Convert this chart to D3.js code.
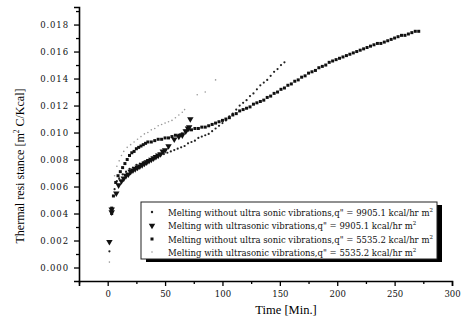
<!DOCTYPE html>
<html>
<head>
<meta charset="utf-8">
<script src="https://cdn.jsdelivr.net/npm/d3@7"></script>
<style>
  body { margin: 0; background: #fff; }
  svg { font-family: "Liberation Serif", "DejaVu Serif", serif; }
</style>
</head>
<body>
<div id="viz"></div>
<script>
const width = 462;
const height = 330;

// x ticks (Time, min) and y ticks (thermal resistance)
const xTicks = [0, 50, 100, 150, 200, 250, 300];
const xMinor = [-25, 25, 75, 125, 175, 225, 275];
const yTicks = [0, 0.002, 0.004, 0.006, 0.008, 0.010, 0.012, 0.014, 0.016, 0.018];
const yMinor = [0.001, 0.003, 0.005, 0.007, 0.009, 0.011, 0.013, 0.015, 0.017, 0.019];

const legendLabels = [
  'Melting without ultra sonic vibrations,q" = 9905.1 kcal/hr m',
  'Melting with ultrasonic vibrations,q" = 9905.1 kcal/hr m',
  'Melting without ultra sonic vibrations,q" = 5535.2 kcal/hr m',
  'Melting with ultrasonic vibrations,q" = 5535.2 kcal/hr m'
];

// [time, resistance]
const noUltra9905 = [
  [1.5, 0.0012], [4, 0.0044], [6, 0.0058], [8, 0.0064], [10, 0.0066], [13, 0.0069],
  [16, 0.0071], [19, 0.0073], [22, 0.0074], [25, 0.0076], [28, 0.0077], [31, 0.0078],
  [34, 0.0079], [37, 0.0080], [40, 0.0081], [43, 0.0082], [46, 0.0083], [49, 0.0084],
  [52, 0.0085], [55, 0.0086], [58, 0.0087], [61, 0.0088], [64, 0.0089], [67, 0.0090],
  [70, 0.0092], [73, 0.0093], [76, 0.0094], [79, 0.0096], [82, 0.0097], [85, 0.0098],
  [88, 0.0099], [91, 0.0101], [94, 0.0103], [97, 0.0105], [100, 0.0107], [103, 0.0109],
  [106, 0.0112], [109, 0.0114], [112, 0.0117], [115, 0.0120], [118, 0.0122], [121, 0.0124],
  [124, 0.0127], [127, 0.0129], [130, 0.0132], [133, 0.0135], [136, 0.0137], [139, 0.0139],
  [142, 0.0142], [145, 0.0145], [148, 0.0147], [151, 0.0150], [154, 0.0152]
];

const ultra9905 = [
  [1.5, 0.0019], [3.5, 0.0043], [3.5, 0.0041], [7.5, 0.0055], [9.5, 0.0061], [12, 0.0064],
  [14, 0.0066], [16, 0.0068], [18, 0.0069], [20, 0.0071], [22, 0.0072], [24, 0.0073],
  [26, 0.0074], [28, 0.0075], [30, 0.0076], [32, 0.0077], [34, 0.0078], [36, 0.0079],
  [38, 0.0080], [40, 0.0081], [42, 0.0082], [44, 0.0083], [46, 0.0084], [48, 0.0086],
  [50, 0.0087], [53, 0.0090], [58, 0.0095], [62, 0.0097], [65, 0.0098], [68, 0.0101],
  [70, 0.0103], [71, 0.0104], [72, 0.0110]
];

const noUltra5535 = [
  [3.5, 0.0040], [3.5, 0.0044], [5, 0.0053], [7, 0.0063], [9, 0.0068], [11, 0.0071],
  [13, 0.0074], [15, 0.0077], [17, 0.0080], [19, 0.0083], [21, 0.0085], [23, 0.0086],
  [25, 0.0088], [27, 0.0089], [29, 0.0090], [31, 0.0091], [33, 0.0092], [35, 0.0093],
  [38, 0.0093], [41, 0.0094], [44, 0.0095], [47, 0.0095], [50, 0.0096], [53, 0.0096],
  [56, 0.0097], [59, 0.0098], [62, 0.0098], [65, 0.0099], [68, 0.0101], [70, 0.0102],
  [73, 0.0102], [76, 0.0103], [79, 0.0103], [82, 0.0104], [85, 0.0104], [88, 0.0105],
  [91, 0.0106], [94, 0.0107], [97, 0.0108], [100, 0.0109], [103, 0.0110], [106, 0.0111],
  [109, 0.0113], [112, 0.0114], [115, 0.0116], [118, 0.0117], [121, 0.0118], [124, 0.0119],
  [127, 0.0121], [130, 0.0122], [133, 0.0123], [136, 0.0124], [139, 0.0126], [142, 0.0127],
  [145, 0.0129], [148, 0.0130], [151, 0.0132], [154, 0.0133], [157, 0.0135], [160, 0.0136],
  [163, 0.0138], [166, 0.0139], [169, 0.0141], [172, 0.0142], [175, 0.0144], [178, 0.0145],
  [181, 0.0146], [184, 0.0148], [187, 0.0149], [190, 0.0150], [193, 0.0152], [196, 0.0153],
  [199, 0.0154], [202, 0.0155], [205, 0.0156], [208, 0.0157], [211, 0.0158], [214, 0.0159],
  [217, 0.0160], [220, 0.0161], [223, 0.0162], [226, 0.0163], [229, 0.0164], [232, 0.0165],
  [235, 0.0166], [238, 0.0166], [241, 0.0167], [244, 0.0168], [247, 0.0169], [250, 0.0170],
  [253, 0.0171], [256, 0.0172], [259, 0.0172], [262, 0.0173], [265, 0.0174], [268, 0.0175],
  [271, 0.0175]
];

const ultra5535 = [
  [1.5, 0.0004], [6, 0.0068], [8, 0.0075], [10, 0.0079], [12, 0.0083], [14, 0.0086],
  [17, 0.0089], [20, 0.0091], [23, 0.0093], [26, 0.0095], [29, 0.0097], [32, 0.0099],
  [35, 0.0100], [38, 0.0102], [41, 0.0103], [44, 0.0105], [47, 0.0106], [50, 0.0107],
  [53, 0.0108], [56, 0.0109], [59, 0.0111], [62, 0.0113], [65, 0.0115], [67, 0.0117],
  [78, 0.0128], [85, 0.0130], [94, 0.0139]
];

const x = d3.scaleLinear().domain([-25, 300]).range([79, 452]);
const y = d3.scaleLinear().domain([-0.001, 0.0193]).range([281, 7]);

const svg = d3.select('#viz')
  .append('svg')
    .attr('width', width)
    .attr('height', height);

// axes
const xAxis = svg.append('g')
  .attr('transform', `translate(0, ${y.range()[0]})`)
  .call(d3.axisBottom(x).tickValues(xTicks).tickSize(5).tickPadding(5).tickFormat(d3.format('d')));
svg.append('g')
  .attr('transform', `translate(0, ${y.range()[0]})`)
  .call(d3.axisBottom(x).tickValues(xMinor).tickSize(3).tickFormat(''))
  .call(g => g.select('.domain').remove());

const yAxis = svg.append('g')
  .attr('transform', `translate(${x.range()[0]}, 0)`)
  .call(d3.axisLeft(y).tickValues(yTicks).tickSize(5).tickPadding(5).tickFormat(d3.format('.3f')));
svg.append('g')
  .attr('transform', `translate(${x.range()[0]}, 0)`)
  .call(d3.axisLeft(y).tickValues(yMinor).tickSize(3).tickFormat(''))
  .call(g => g.select('.domain').remove());

svg.selectAll('.domain').attr('stroke-width', 1.6).attr('stroke', '#000');
svg.selectAll('.tick line').attr('stroke-width', 1.3).attr('stroke', '#000');
xAxis.selectAll('text')
  .attr('font-family', '"DejaVu Serif", serif')
  .attr('font-size', 8.5)
  .attr('fill', '#111');
yAxis.selectAll('text')
  .attr('font-family', '"DejaVu Serif", serif')
  .attr('font-size', 8.5)
  .attr('letter-spacing', 0.9)
  .attr('fill', '#111');

// axis titles
svg.append('text')
  .attr('x', 286)
  .attr('y', 314)
  .attr('text-anchor', 'middle')
  .attr('font-size', 12.5)
  .text('Time [Min.]');

const yTitle = svg.append('text')
  .attr('transform', 'translate(24, 166) rotate(-90)')
  .attr('text-anchor', 'middle')
  .attr('font-size', 12);
yTitle.append('tspan').text('Thermal resi stance [m');
yTitle.append('tspan').attr('font-size', 7.5).attr('dy', -5).text('2');
yTitle.append('tspan').attr('dy', 5).text(' C/Kcal]');

// marker drawers
const tri = d3.symbol().type(d3.symbolTriangle).size(18);

const plot = svg.append('g');

plot.append('g').selectAll('circle').data(ultra5535).join('circle')
  .attr('cx', d => x(d[0]))
  .attr('cy', d => y(d[1]))
  .attr('r', 0.8)
  .attr('fill', '#999');

plot.append('g').selectAll('circle').data(noUltra9905).join('circle')
  .attr('cx', d => x(d[0]))
  .attr('cy', d => y(d[1]))
  .attr('r', 1.1)
  .attr('fill', '#222');

plot.append('g').selectAll('rect').data(noUltra5535).join('rect')
  .attr('x', d => x(d[0]) - 1.5)
  .attr('y', d => y(d[1]) - 1.5)
  .attr('width', 3)
  .attr('height', 3)
  .attr('fill', '#111');

plot.append('g').selectAll('path').data(ultra9905).join('path')
  .attr('d', tri)
  .attr('transform', d => `translate(${x(d[0])}, ${y(d[1])}) rotate(180)`)
  .attr('fill', '#111');

// legend
const lg = {left: 141, top: 202, right: 437, bottom: 259};
svg.append('rect')
  .attr('x', lg.left + 5)
  .attr('y', lg.top + 3)
  .attr('width', lg.right - lg.left)
  .attr('height', lg.bottom - lg.top)
  .attr('fill', '#000');
svg.append('rect')
  .attr('x', lg.left)
  .attr('y', lg.top)
  .attr('width', lg.right - lg.left)
  .attr('height', lg.bottom - lg.top)
  .attr('fill', '#fff')
  .attr('stroke', '#222')
  .attr('stroke-width', 1);

const rowY = [212, 225.5, 239, 252];
legendLabels.forEach((label, i) => {
  const cy = rowY[i];
  const mx = 152;
  if (i === 0) {
    svg.append('circle').attr('cx', mx).attr('cy', cy).attr('r', 1.2).attr('fill', '#222');
  } else if (i === 1) {
    svg.append('path').attr('d', tri).attr('transform', `translate(${mx}, ${cy}) rotate(180)`).attr('fill', '#111');
  } else if (i === 2) {
    svg.append('rect').attr('x', mx - 1.5).attr('y', cy - 1.5).attr('width', 3).attr('height', 3).attr('fill', '#111');
  } else {
    svg.append('circle').attr('cx', mx).attr('cy', cy).attr('r', 0.8).attr('fill', '#999');
  }
  const t = svg.append('text')
    .attr('x', 168)
    .attr('y', cy + 3.5)
    .attr('font-family', '"DejaVu Serif", serif')
    .attr('font-size', 8.5)
    .attr('fill', '#111');
  t.append('tspan').text(label);
  t.append('tspan').attr('font-size', 5.5).attr('dy', -4).text('2');
});
</script>
</body>
</html>
